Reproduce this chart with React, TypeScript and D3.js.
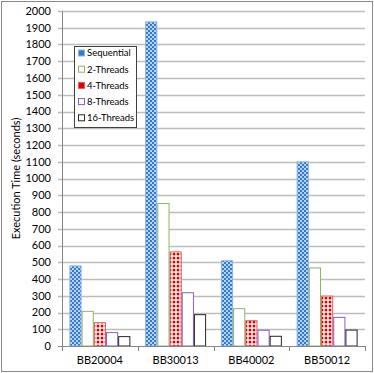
import React, { useEffect, useRef } from 'react';
import * as d3 from 'd3';

const categories = ['BB20004', 'BB30013', 'BB40002', 'BB50012'];
const seriesNames = ['Sequential', '2-Threads', '4-Threads', '8-Threads', '16-Threads'];
const sequential = [478, 1935, 509, 1099];
const threads2 = [207, 851, 223, 466];
const threads4 = [139, 562, 151, 298];
const threads8 = [80, 318, 94, 171];
const threads16 = [56, 187, 58, 95];
const yTicks = d3.range(0, 2001, 100);

export default function App() {
  const ref = useRef<SVGSVGElement>(null);

  useEffect(() => {
    const svg = d3.select(ref.current);
    svg.selectAll('*').remove();

    const width = 374;
    const height = 373;
    const margin = { top: 11, right: 9, bottom: 27, left: 62 };
    const font = 'Lato, "DejaVu Sans", sans-serif';
    const values = [sequential, threads2, threads4, threads8, threads16];

    // patterns for the filled series
    const defs = svg.append('defs');
    const blue = defs
      .append('pattern')
      .attr('id', 'pat-seq')
      .attr('patternUnits', 'userSpaceOnUse')
      .attr('width', 4)
      .attr('height', 4);
    blue.append('rect').attr('width', 4).attr('height', 4).attr('fill', '#2f7ad6');
    blue.append('circle').attr('cx', 1).attr('cy', 1).attr('r', 0.9).attr('fill', '#ffffff');
    blue.append('circle').attr('cx', 3).attr('cy', 3).attr('r', 0.9).attr('fill', '#ffffff');

    const red = defs
      .append('pattern')
      .attr('id', 'pat-4')
      .attr('patternUnits', 'userSpaceOnUse')
      .attr('width', 4)
      .attr('height', 4);
    red.append('rect').attr('width', 4).attr('height', 4).attr('fill', '#ffffff');
    red.append('circle').attr('cx', 2).attr('cy', 2).attr('r', 1.5).attr('fill', '#e00000');

    const fills = ['url(#pat-seq)', '#ffffff', 'url(#pat-4)', '#ffffff', '#ffffff'];
    const strokes = ['#8db4e2', '#8fb36a', '#e06060', '#8a5cc4', '#262626'];
    const legendFill = ['#2f7ad6', '#ffffff', '#e00000', '#ffffff', '#ffffff'];

    // outer frame
    svg
      .append('rect')
      .attr('x', 1.5)
      .attr('y', 1.5)
      .attr('width', width - 3)
      .attr('height', height - 3)
      .attr('fill', '#ffffff')
      .attr('stroke', '#888888');

    const x = d3
      .scaleBand()
      .domain(categories)
      .range([margin.left, width - margin.right])
      .paddingInner(0.195)
      .paddingOuter(0.0975);

    const inner = d3
      .scaleBand()
      .domain(seriesNames)
      .range([0, x.bandwidth()]);

    const y = d3
      .scaleLinear()
      .domain([0, 2000])
      .range([height - margin.bottom, margin.top]);

    // gridlines
    svg
      .append('g')
      .selectAll('line')
      .data(yTicks.filter((d) => d > 0))
      .join('line')
      .attr('x1', margin.left - 4)
      .attr('x2', width - margin.right)
      .attr('y1', (d) => Math.round(y(d)) + 0.5)
      .attr('y2', (d) => Math.round(y(d)) + 0.5)
      .attr('stroke', '#bdbdbd')
      .attr('stroke-width', 1.3);

    // y tick labels
    svg
      .append('g')
      .selectAll('text')
      .data(yTicks)
      .join('text')
      .attr('x', margin.left - 11)
      .attr('y', (d) => y(d))
      .attr('dy', '0.35em')
      .attr('text-anchor', 'end')
      .attr('font-family', font)
      .attr('font-size', 11)
      .attr('fill', '#000')
      .text((d) => d);

    // bars
    svg
      .append('g')
      .selectAll('g')
      .data(seriesNames)
      .join('g')
      .each(function (name, si) {
        d3.select(this)
          .selectAll('rect')
          .data(values[si])
          .join('rect')
          .attr('x', (d, i) => (x(categories[i]) as number) + (inner(name) as number) + 0.5)
          .attr('y', (d) => y(d))
          .attr('width', inner.bandwidth() - 1)
          .attr('height', (d) => y(0) - y(d))
          .attr('fill', fills[si])
          .attr('stroke', strokes[si])
          .attr('stroke-width', 1);
      });

    // axes lines
    const axisColor = '#868686';
    svg
      .append('line')
      .attr('x1', margin.left + 0.5)
      .attr('x2', margin.left + 0.5)
      .attr('y1', margin.top)
      .attr('y2', y(0))
      .attr('stroke', axisColor);
    svg
      .append('line')
      .attr('x1', margin.left - 4)
      .attr('x2', width - margin.right)
      .attr('y1', Math.round(y(0)) + 0.5)
      .attr('y2', Math.round(y(0)) + 0.5)
      .attr('stroke', axisColor);

    // x category ticks
    const boundaries = categories.map((c) => (x(c) as number) - (x.step() - x.bandwidth()) / 2);
    boundaries.push(width - margin.right);
    svg
      .append('g')
      .selectAll('line')
      .data(boundaries)
      .join('line')
      .attr('x1', (d) => Math.round(d) + 0.5)
      .attr('x2', (d) => Math.round(d) + 0.5)
      .attr('y1', y(0))
      .attr('y2', y(0) + 5)
      .attr('stroke', axisColor);

    svg
      .append('g')
      .selectAll('text')
      .data(categories)
      .join('text')
      .attr('x', (d) => (x(d) as number) + x.bandwidth() / 2)
      .attr('y', height - 9)
      .attr('text-anchor', 'middle')
      .attr('font-family', font)
      .attr('font-size', 11)
      .attr('fill', '#000')
      .text((d) => d);

    // y axis title
    svg
      .append('text')
      .attr('transform', `translate(20,${(margin.top + y(0)) / 2}) rotate(-90)`)
      .attr('text-anchor', 'middle')
      .attr('font-family', font)
      .attr('font-size', 11)
      .attr('fill', '#000')
      .text('Execution Time (seconds)');

    // legend
    const legend = svg.append('g').attr('transform', 'translate(74,46)');
    legend
      .append('rect')
      .attr('x', 0.5)
      .attr('y', 0.5)
      .attr('width', 62)
      .attr('height', 81)
      .attr('fill', '#ffffff')
      .attr('stroke', '#404040');
    const items = legend
      .selectAll('g')
      .data(seriesNames)
      .join('g')
      .attr('transform', (d, i) => `translate(4,${7 + i * 16.2})`);
    items
      .append('rect')
      .attr('x', 0.5)
      .attr('y', -3)
      .attr('width', 6)
      .attr('height', 6)
      .attr('fill', (d, i) => legendFill[i])
      .attr('stroke', (d, i) => strokes[i]);
    items
      .append('text')
      .attr('x', 9)
      .attr('dy', '0.35em')
      .attr('font-family', font)
      .attr('font-size', 9.5)
      .attr('fill', '#000')
      .text((d) => d);
  }, []);

  return (
    <svg
      ref={ref}
      width={374}
      height={373}
      style={{ position: 'absolute', left: 0, top: 0 }}
    />
  );
}
